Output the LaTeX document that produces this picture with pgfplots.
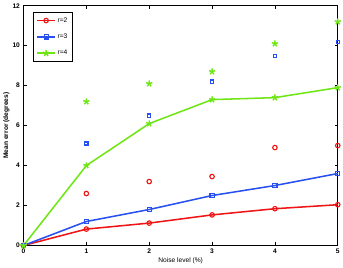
\documentclass[border=0pt]{standalone}
\usepackage{pgfplots}
\pgfplotsset{compat=1.18}
\usepackage{fontspec}
\setmainfont{Liberation Sans}
\definecolor{cr}{RGB}{240,20,20}
\definecolor{cb}{RGB}{40,80,240}
\definecolor{cg}{RGB}{110,230,20}
\begin{document}
\begin{tikzpicture}
\begin{axis}[
  scale only axis, width=308pt, height=235pt,
  xmin=0, xmax=5, ymin=0, ymax=12,
  xtick={0,1,2,3,4,5}, ytick={0,2,4,6,8,10,12},
  tick align=inside, tick pos=both,
  major tick length=3pt,
  axis line style={line width=1.3pt},
  every tick/.style={black, line width=0.8pt},
  tick label style={font=\fontsize{6.5}{7}\selectfont\bfseries},
  /pgf/number format/assume math mode=true,
  xlabel={Noise level (\%)}, ylabel={\bfseries Mean error (degrees)},
  label style={font=\fontsize{6.5}{7}\selectfont},
  xlabel style={yshift=3pt}, ylabel style={yshift=-4pt},
  legend style={font=\fontsize{6.5}{7}\selectfont, draw=black, line width=1.3pt, at={(0.03,0.975)}, anchor=north west, row sep=6pt, inner sep=3pt},
  legend image post style={line width=1.5pt},
  legend cell align=left,
]
\addplot[cr, line width=1.5pt, mark=o, mark size=2.2pt, mark options={line width=1.1pt}] coordinates {(0,0) (1,0.82) (2,1.12) (3,1.53) (4,1.84) (5,2.04)};
\addlegendentry{r=2}
\addplot[cb, line width=1.5pt, mark=square, mark size=2pt, mark options={line width=1.1pt}] coordinates {(0,0) (1,1.2) (2,1.8) (3,2.5) (4,3.0) (5,3.6)};
\addlegendentry{r=3}
\addplot[cg, line width=1.5pt, mark=star, mark size=3.2pt, mark options={line width=1.4pt}] coordinates {(0,0) (1,4.0) (2,6.1) (3,7.3) (4,7.4) (5,7.9)};
\addlegendentry{r=4}
\addplot[cr, only marks, mark=o, mark size=2.2pt, mark options={line width=1.1pt}, forget plot] coordinates {(0,0) (1,2.6) (2,3.2) (3,3.45) (4,4.9) (5,5.0)};
\addplot[cb, only marks, mark=square, mark size=1.5pt, mark options={line width=1.2pt}, forget plot] coordinates {(0,0) (1,5.1) (2,6.5) (3,8.2) (4,9.5) (5,10.2)};
\addplot[cg, only marks, mark=star, mark size=3.2pt, mark options={line width=1.4pt}, forget plot] coordinates {(0,0) (1,7.2) (2,8.1) (3,8.7) (4,10.1) (5,11.2)};
\end{axis}
\end{tikzpicture}
\end{document}
